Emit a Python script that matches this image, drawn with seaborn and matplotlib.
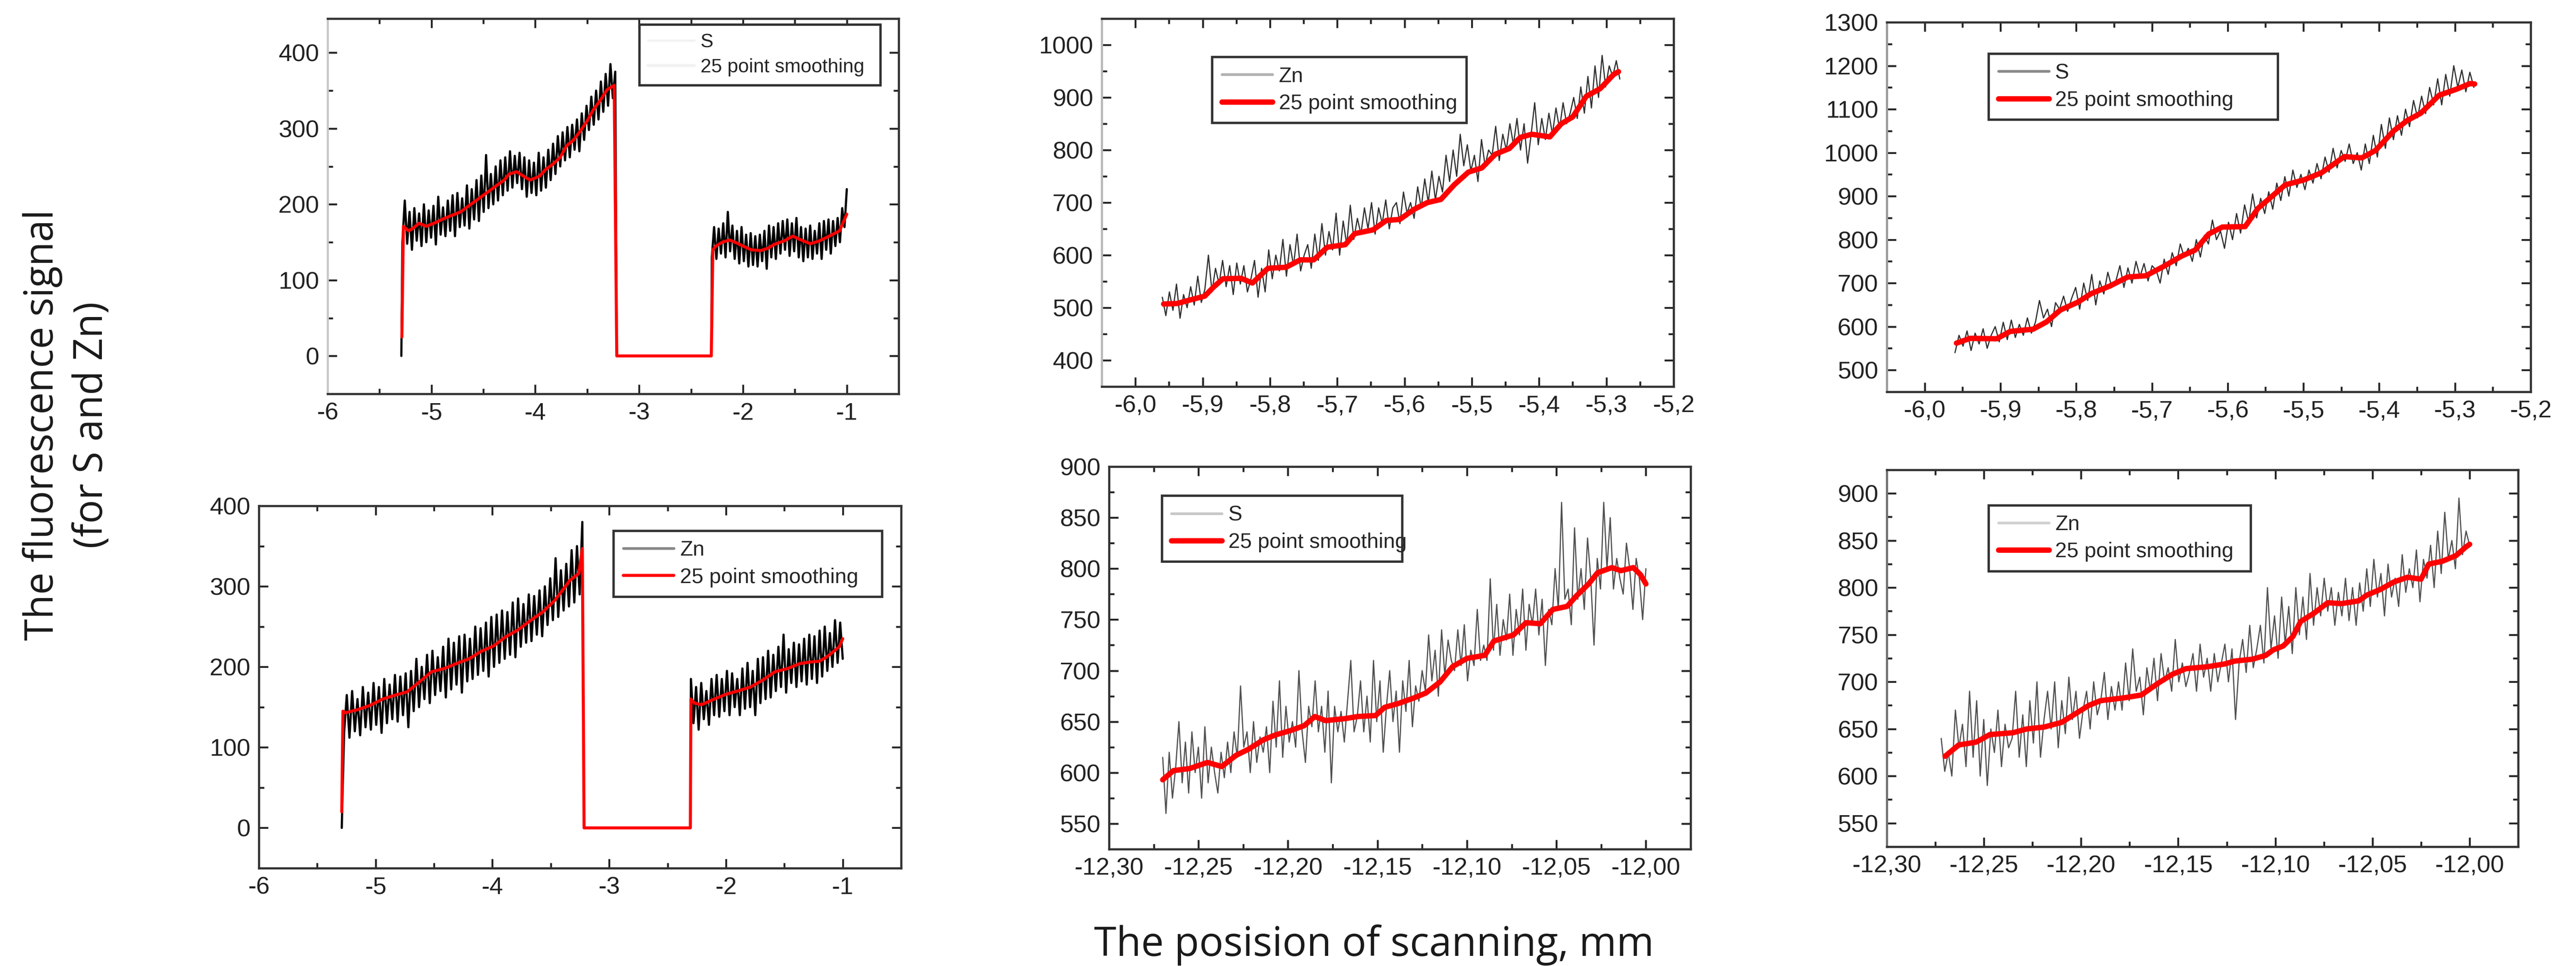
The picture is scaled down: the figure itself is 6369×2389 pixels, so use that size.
import numpy as np
import matplotlib
matplotlib.use("Agg")
import matplotlib.pyplot as plt
import seaborn as sns

# ---------------- data ----------------
# top-left: S, wide scan
tl_seg1 = [150, 205, 148, 190, 140, 195, 152, 188, 145, 200,
           150, 192, 156, 198, 147, 210, 160, 196, 158, 205,
           165, 212, 158, 215, 170, 208, 172, 225, 168, 220,
           180, 232, 178, 238, 190, 265, 195, 240, 200, 250,
           205, 258, 212, 262, 218, 270, 222, 264, 228, 268,
           220, 262, 210, 258, 215, 255, 212, 268, 218, 262,
           222, 272, 232, 280, 240, 290, 250, 295, 258, 302,
           262, 305, 272, 312, 270, 320, 285, 330, 298, 342,
           305, 350, 312, 362, 322, 372, 330, 385, 340, 375]
tl_seg2 = [130, 170, 128, 168, 135, 175, 130, 190, 138, 172,
           128, 165, 122, 170, 125, 160, 118, 162, 120, 158,
           118, 160, 125, 165, 115, 172, 130, 170, 128, 175,
           135, 178, 140, 180, 132, 175, 138, 182, 130, 170,
           125, 168, 130, 172, 128, 165, 135, 175, 128, 178,
           140, 180, 135, 178, 145, 182, 150, 195, 170, 220]
tl_seg1_range = (-5.28, -3.23)
tl_seg2_range = (-2.30, -1.00)
tl_gap_x = [-3.215, -2.305]
tl_start_x = -5.29
tl_smooth_x = [-5.285, -5.27, -5.22, -5.18, -5.12, -5.05, -4.96, -4.90, -4.83, -4.72,
               -4.62, -4.50, -4.40, -4.30, -4.25, -4.18, -4.10, -4.05, -3.96, -3.90,
               -3.83, -3.76, -3.70, -3.63, -3.57, -3.50, -3.44, -3.37, -3.31, -3.24,
               -3.215, -2.305, -2.29, -2.26, -2.20, -2.13, -2.06, -2.00, -1.92, -1.83,
               -1.76, -1.70, -1.60, -1.52, -1.44, -1.35, -1.26, -1.17, -1.07, -1.00]
tl_smooth_y = [25, 171, 165, 168, 175, 171, 176, 180, 184, 190,
               200, 212, 222, 232, 240, 243, 236, 232, 237, 246,
               253, 262, 277, 285, 296, 310, 325, 338, 351, 357,
               0, 0, 140, 145, 150, 153, 149, 145, 140, 139,
               142, 147, 152, 158, 153, 148, 152, 158, 165, 187]

# bottom-left: Zn, wide scan
bl_seg1 = [118, 165, 112, 170, 120, 160, 115, 175, 125, 168,
           122, 180, 128, 175, 118, 185, 130, 178, 135, 190,
           132, 188, 140, 192, 125, 195, 145, 210, 150, 200,
           160, 215, 155, 220, 165, 212, 170, 225, 162, 235,
           172, 230, 178, 238, 168, 240, 182, 235, 185, 250,
           190, 248, 195, 255, 188, 262, 200, 265, 205, 270,
           210, 268, 215, 280, 212, 285, 225, 278, 230, 290,
           232, 288, 240, 295, 238, 300, 252, 310, 258, 335,
           262, 320, 270, 328, 275, 345, 280, 350, 290, 380]
bl_seg2 = [185, 130, 175, 122, 180, 135, 170, 128, 185, 140,
           190, 138, 185, 145, 195, 140, 192, 150, 185, 140,
           198, 148, 205, 150, 195, 140, 210, 155, 212, 160,
           220, 162, 215, 170, 225, 175, 240, 168, 222, 180,
           230, 175, 228, 182, 235, 178, 240, 185, 238, 180,
           245, 188, 250, 195, 242, 200, 258, 205, 255, 210]
bl_seg1_range = (-5.27, -3.23)
bl_seg2_range = (-2.30, -1.00)
bl_gap_x = [-3.215, -2.305]
bl_start_x = -5.29
bl_smooth_x = [-5.29, -5.28, -5.26, -5.15, -5.05, -4.94, -4.83, -4.73, -4.62, -4.52,
               -4.41, -4.31, -4.20, -4.10, -3.99, -3.89, -3.78, -3.68, -3.57, -3.47,
               -3.40, -3.34, -3.26, -3.23, -3.215, -2.305, -2.30, -2.27, -2.21, -2.10,
               -2.00, -1.90, -1.79, -1.68, -1.58, -1.47, -1.37, -1.28, -1.20, -1.14,
               -1.08, -1.03, -1.00]
bl_smooth_y = [20, 145, 143, 147, 152, 160, 165, 169, 182, 194,
               198, 204, 210, 219, 226, 237, 246, 257, 268, 282,
               295, 307, 316, 347, 0, 0, 160, 155, 153, 160,
               166, 170, 175, 184, 194, 198, 204, 206, 207, 212,
               219, 225, 235]

# top-middle: Zn, narrow scan
tm_raw = [520, 485, 530, 495, 545, 480, 525, 500, 540, 505,
          560, 510, 535, 600, 530, 575, 545, 590, 540, 580,
          525, 585, 545, 580, 530, 555, 590, 520, 575, 530,
          610, 555, 600, 570, 630, 560, 620, 580, 640, 570,
          600, 620, 575, 640, 590, 660, 600, 645, 610, 680,
          600, 665, 620, 695, 630, 670, 640, 690, 650, 700,
          640, 690, 660, 705, 650, 690, 700, 660, 720, 680,
          700, 670, 730, 690, 745, 700, 760, 705, 750, 720,
          790, 740, 800, 750, 830, 770, 810, 760, 790, 740,
          820, 770, 800, 790, 845, 780, 830, 800, 850, 810,
          860, 800, 850, 775, 830, 890, 810, 860, 820, 870,
          830, 880, 840, 890, 850, 870, 900, 860, 920, 870,
          940, 880, 960, 900, 980, 920, 960, 940, 970, 935]
tm_range = (-5.960, -5.280)
tm_smooth_x = [-5.958, -5.938, -5.918, -5.897, -5.884, -5.870, -5.843, -5.826, -5.803, -5.776,
               -5.755, -5.735, -5.715, -5.688, -5.674, -5.647, -5.627, -5.607, -5.586, -5.566,
               -5.546, -5.526, -5.505, -5.485, -5.465, -5.444, -5.428, -5.411, -5.384, -5.367,
               -5.350, -5.330, -5.309, -5.289, -5.282]
tm_smooth_y = [507, 508, 515, 522, 539, 555, 556, 547, 575, 577,
               591, 591, 615, 620, 641, 648, 666, 668, 687, 700,
               706, 734, 758, 766, 792, 803, 824, 830, 825, 850,
               863, 902, 917, 944, 949]

# top-right: S, narrow scan
tr_raw = [540, 580, 555, 590, 545, 585, 560, 595, 550, 580,
          600, 565, 610, 570, 615, 575, 605, 580, 620, 585,
          610, 660, 620, 640, 600, 655, 640, 670, 635, 665,
          690, 640, 700, 660, 720, 650, 705, 675, 725, 690,
          705, 740, 690, 735, 700, 750, 715, 745, 705, 740,
          730, 700, 755, 720, 770, 740, 790, 760, 780, 750,
          800, 760, 810, 790, 845, 800, 820, 780, 840, 800,
          860, 815, 880, 840, 905, 850, 895, 860, 910, 870,
          930, 890, 945, 900, 960, 920, 950, 915, 960, 930,
          975, 940, 990, 955, 1010, 965, 1005, 980, 1020, 975,
          1000, 960, 1020, 975, 1040, 990, 1065, 1010, 1080, 1030,
          1085, 1040, 1100, 1060, 1120, 1080, 1130, 1090, 1150, 1110,
          1170, 1110, 1180, 1130, 1200, 1150, 1190, 1140, 1185, 1150]
tr_range = (-5.960, -5.275)
tr_smooth_x = [-5.958, -5.940, -5.905, -5.887, -5.857, -5.839, -5.821, -5.798, -5.780, -5.756,
               -5.732, -5.708, -5.685, -5.661, -5.643, -5.625, -5.607, -5.577, -5.560, -5.542,
               -5.524, -5.500, -5.476, -5.446, -5.423, -5.405, -5.381, -5.363, -5.345, -5.321,
               -5.298, -5.280, -5.274]
tr_smooth_y = [562, 573, 572, 589, 594, 611, 638, 656, 676, 693,
               714, 717, 738, 762, 776, 813, 829, 830, 872, 899,
               926, 937, 954, 991, 988, 1005, 1050, 1074, 1091, 1132,
               1146, 1159, 1158]

# bottom-middle: S, second narrow scan
bm_raw = [615, 560, 620, 575, 605, 650, 590, 630, 580, 640,
          600, 625, 575, 645, 590, 625, 600, 580, 620, 595,
          630, 600, 640, 615, 685, 625, 640, 600, 650, 610,
          635, 620, 645, 600, 670, 625, 690, 615, 665, 630,
          650, 625, 700, 640, 610, 665, 645, 690, 640, 665,
          620, 680, 590, 665, 640, 660, 630, 670, 710, 640,
          655, 690, 640, 675, 630, 710, 650, 690, 620, 665,
          700, 650, 680, 620, 690, 660, 710, 645, 685, 670,
          700, 680, 735, 690, 720, 675, 740, 695, 730, 710,
          700, 740, 705, 745, 690, 720, 705, 760, 710, 725,
          710, 790, 720, 765, 715, 750, 730, 775, 715, 760,
          735, 780, 720, 765, 745, 780, 735, 770, 705, 760,
          745, 800, 760, 865, 770, 780, 745, 840, 770, 800,
          760, 830, 790, 725, 810, 780, 865, 800, 850, 780,
          810, 790, 775, 825, 800, 760, 810, 790, 750, 800]
bm_range = (-12.270, -12.000)
bm_smooth_x = [-12.270, -12.264, -12.255, -12.245, -12.237, -12.229, -12.222, -12.214, -12.207, -12.199,
               -12.191, -12.185, -12.179, -12.168, -12.161, -12.151, -12.146, -12.138, -12.130, -12.123,
               -12.115, -12.108, -12.100, -12.090, -12.085, -12.074, -12.067, -12.059, -12.052, -12.044,
               -12.039, -12.032, -12.027, -12.019, -12.014, -12.007, -12.003, -12.000]
bm_smooth_y = [593, 602, 604, 610, 606, 617, 623, 632, 637, 641,
               646, 655, 651, 653, 655, 656, 664, 668, 673, 678,
               689, 704, 712, 715, 729, 735, 747, 746, 760, 763,
               773, 785, 796, 801, 798, 801, 794, 785]

# bottom-right: Zn, second narrow scan
br_raw = [640, 605, 625, 600, 670, 630, 655, 610, 690, 620,
          680, 600, 660, 590, 650, 625, 670, 610, 655, 630,
          640, 690, 620, 665, 610, 680, 635, 700, 620, 660,
          690, 650, 700, 630, 680, 645, 705, 660, 690, 640,
          670, 690, 650, 700, 665, 680, 710, 660, 695, 670,
          700, 670, 720, 680, 735, 690, 705, 665, 715, 690,
          725, 680, 730, 700, 715, 690, 745, 700, 720, 695,
          710, 730, 690, 740, 705, 725, 690, 730, 700, 720,
          740, 700, 735, 660, 720, 745, 710, 760, 715, 735,
          760, 720, 800, 735, 770, 725, 790, 740, 780, 730,
          800, 750, 790, 745, 815, 760, 800, 770, 810, 775,
          800, 760, 795, 770, 810, 765, 800, 760, 805, 775,
          820, 780, 830, 790, 815, 770, 825, 790, 810, 780,
          835, 795, 820, 800, 840, 785, 830, 810, 845, 800,
          860, 815, 880, 830, 850, 820, 895, 835, 860, 845]
br_range = (-12.272, -12.000)
br_smooth_x = [-12.270, -12.263, -12.254, -12.247, -12.235, -12.228, -12.219, -12.210, -12.203, -12.196,
               -12.190, -12.178, -12.169, -12.160, -12.153, -12.146, -12.135, -12.126, -12.121, -12.112,
               -12.105, -12.101, -12.096, -12.091, -12.087, -12.080, -12.073, -12.066, -12.057, -12.053,
               -12.046, -12.039, -12.032, -12.025, -12.021, -12.014, -12.007, -12.002, -12.000]
br_smooth_y = [621, 633, 636, 644, 646, 650, 652, 657, 666, 675,
               680, 683, 686, 699, 708, 714, 716, 719, 722, 724,
               728, 734, 738, 748, 764, 773, 784, 783, 786, 792,
               798, 806, 811, 809, 825, 828, 834, 843, 846]

# tick values and labels
wide_xticks = [-6, -5, -4, -3, -2, -1]
wide_xlabels = ["-6", "-5", "-4", "-3", "-2", "-1"]
narrow1_xticks = [-6.0, -5.9, -5.8, -5.7, -5.6, -5.5, -5.4, -5.3, -5.2]
narrow1_xlabels = ["-6,0", "-5,9", "-5,8", "-5,7", "-5,6", "-5,5", "-5,4", "-5,3", "-5,2"]
narrow2_xticks = [-12.30, -12.25, -12.20, -12.15, -12.10, -12.05, -12.00]
narrow2_xlabels = ["-12,30", "-12,25", "-12,20", "-12,15", "-12,10", "-12,05", "-12,00"]

ylabel_text = "The fluorescence signal\n(for S and Zn)"
xlabel_text = "The posision of scanning, mm"

# ---------------- style ----------------
sns.set_style("ticks")
plt.rcParams["font.family"] = ["Liberation Sans", "DejaVu Sans"]
plt.rcParams["axes.unicode_minus"] = False

W, H = 6369, 2389
fig = plt.figure(figsize=(W / 300, H / 300), dpi=300)


def box(x0, x1, y0, y1):
    return [x0 / W, 1 - y1 / H, (x1 - x0) / W, (y1 - y0) / H]


def style_axes(ax, xlim, ylim, xticks, xlabels, xminor, yticks, yminor, left_col="#333333"):
    ax.set_xlim(*xlim)
    ax.set_ylim(*ylim)
    ax.set_xticks(xticks, xlabels)
    ax.set_xticks(np.arange(xticks[0], xticks[-1] + 1e-9, xminor), minor=True)
    ax.set_yticks(yticks, [str(v) for v in yticks])
    ax.set_yticks(np.arange(yticks[0] - yminor, ylim[1] + 1e-9, yminor), minor=True)
    ax.tick_params(which="both", direction="in", top=True, right=True,
                   colors="#222222", labelsize=14.5, width=1.1)
    ax.tick_params(which="major", length=5.5, pad=5)
    ax.tick_params(which="minor", length=3.2)
    for s in ax.spines.values():
        s.set_color("#333333")
        s.set_linewidth(1.3)
    ax.spines["left"].set_color(left_col)
    ax.set_xlabel("")
    ax.set_ylabel("")


def add_legend(ax, x0, ytop, width, fs, faint=False):
    leg = ax.legend(loc="upper left", bbox_to_anchor=(x0, ytop, width, 0.01), mode="expand",
                    fontsize=fs, frameon=True, fancybox=False, framealpha=1,
                    edgecolor="#333333", handlelength=2.4, borderpad=0.45,
                    labelspacing=0.35, handletextpad=0.3)
    leg.get_frame().set_linewidth(1.4)
    if faint:
        for h in leg.legend_handles:
            h.set_color("#f2f2f2")
    return leg


def wide_series(start_x, r1, seg1, gap_x, r2, seg2):
    xs = [start_x] + list(np.linspace(r1[0], r1[1], len(seg1))) + gap_x + \
        list(np.linspace(r2[0], r2[1], len(seg2)))
    ys = [0] + seg1 + [0, 0] + seg2
    return xs, ys


# ---------- top-left ----------
ax = fig.add_axes(box(810, 2222, 46, 974))
x, y = wide_series(tl_start_x, tl_seg1_range, tl_seg1, tl_gap_x, tl_seg2_range, tl_seg2)
sns.lineplot(x=x, y=y, ax=ax, color="#000000", lw=1.3, sort=False, estimator=None, label="S")
sns.lineplot(x=tl_smooth_x, y=tl_smooth_y, ax=ax, color="#ff0000", lw=1.8,
             sort=False, estimator=None, label="25 point smoothing")
style_axes(ax, (-6, -0.5), (0, 445), wide_xticks, wide_xlabels, 0.5,
           [0, 100, 200, 300, 400], 50, left_col="#c8c8c8")
add_legend(ax, 0.529, 1.0, 0.456, 11.5, faint=True)

# ---------- bottom-left ----------
ax = fig.add_axes(box(640, 2228, 1251, 2147))
x, y = wide_series(bl_start_x, bl_seg1_range, bl_seg1, bl_gap_x, bl_seg2_range, bl_seg2)
sns.lineplot(x=x, y=y, ax=ax, color="#000000", lw=1.3, sort=False, estimator=None, label="Zn")
sns.lineplot(x=bl_smooth_x, y=bl_smooth_y, ax=ax, color="#ff0000", lw=1.8,
             sort=False, estimator=None, label="25 point smoothing")
style_axes(ax, (-6, -0.5), (0, 400), wide_xticks, wide_xlabels, 0.5,
           [0, 100, 200, 300, 400], 50)
leg = add_legend(ax, 0.536, 0.95, 0.451, 12.5)
leg.legend_handles[0].set_color("#888888")
leg.legend_handles[0].set_linewidth(1.6)

# ---------- top-middle ----------
ax = fig.add_axes(box(2724, 4138, 46, 956))
sns.lineplot(x=np.linspace(tm_range[0], tm_range[1], len(tm_raw)), y=tm_raw, ax=ax,
             color="#303030", lw=0.7, sort=False, estimator=None, label="Zn")
sns.lineplot(x=tm_smooth_x, y=tm_smooth_y, ax=ax, color="#ff0000", lw=3.2,
             sort=False, estimator=None, label="25 point smoothing")
style_axes(ax, (-6.05, -5.2), (400, 1050), narrow1_xticks, narrow1_xlabels, 0.05,
           [400, 500, 600, 700, 800, 900, 1000], 50, left_col="#b8b8b8")
leg = add_legend(ax, 0.175, 0.914, 0.481, 12.5)
leg.legend_handles[0].set_color("#b0b0b0")
leg.legend_handles[0].set_linewidth(1.6)

# ---------- top-right ----------
ax = fig.add_axes(box(4665, 6257, 55, 969))
sns.lineplot(x=np.linspace(tr_range[0], tr_range[1], len(tr_raw)), y=tr_raw, ax=ax,
             color="#303030", lw=0.7, sort=False, estimator=None, label="S")
sns.lineplot(x=tr_smooth_x, y=tr_smooth_y, ax=ax, color="#ff0000", lw=3.2,
             sort=False, estimator=None, label="25 point smoothing")
style_axes(ax, (-6.05, -5.2), (450, 1300), narrow1_xticks, narrow1_xlabels, 0.05,
           [500, 600, 700, 800, 900, 1000, 1100, 1200, 1300], 50, left_col="#9a9a9a")
leg = add_legend(ax, 0.142, 0.933, 0.482, 12.5)
leg.legend_handles[0].set_color("#8a8a8a")
leg.legend_handles[0].set_linewidth(1.6)

# ---------- bottom-middle ----------
ax = fig.add_axes(box(2742, 4180, 1154, 2100))
sns.lineplot(x=np.linspace(bm_range[0], bm_range[1], len(bm_raw)), y=bm_raw, ax=ax,
             color="#505050", lw=0.7, sort=False, estimator=None, label="S")
sns.lineplot(x=bm_smooth_x, y=bm_smooth_y, ax=ax, color="#ff0000", lw=3.2,
             sort=False, estimator=None, label="25 point smoothing")
style_axes(ax, (-12.30, -11.975), (525, 900), narrow2_xticks, narrow2_xlabels, 0.025,
           [550, 600, 650, 700, 750, 800, 850, 900], 25)
leg = add_legend(ax, 0.073, 0.941, 0.449, 12.5)
leg.legend_handles[0].set_color("#c8c8c8")
leg.legend_handles[0].set_linewidth(1.6)

# ---------- bottom-right ----------
ax = fig.add_axes(box(4665, 6226, 1162, 2094))
sns.lineplot(x=np.linspace(br_range[0], br_range[1], len(br_raw)), y=br_raw, ax=ax,
             color="#505050", lw=0.7, sort=False, estimator=None, label="Zn")
sns.lineplot(x=br_smooth_x, y=br_smooth_y, ax=ax, color="#ff0000", lw=3.2,
             sort=False, estimator=None, label="25 point smoothing")
style_axes(ax, (-12.30, -11.975), (548, 925), narrow2_xticks, narrow2_xlabels, 0.025,
           [550, 600, 650, 700, 750, 800, 850, 900], 25, left_col="#707070")
leg = add_legend(ax, 0.145, 0.924, 0.448, 12.5)
leg.legend_handles[0].set_color("#d0d0d0")
leg.legend_handles[0].set_linewidth(1.6)

# ---------- shared labels ----------
fig.text(166 / W, 1 - 1051 / H, ylabel_text, rotation=90, ha="center", va="center",
         multialignment="center", fontsize=23.5, color="#1a1a1a",
         family=["Open Sans", "DejaVu Sans"], linespacing=1.3)
fig.text(3397 / W, 1 - 2364 / H, xlabel_text, ha="center", va="baseline",
         fontsize=24, color="#1a1a1a", family=["Open Sans", "DejaVu Sans"])

fig.savefig("out.png", dpi=300)
